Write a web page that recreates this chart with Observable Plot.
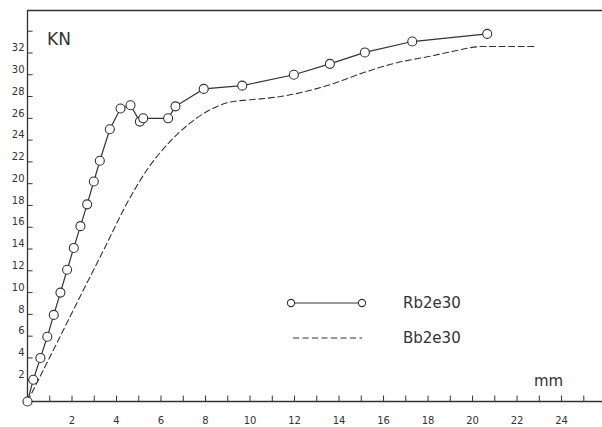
<!DOCTYPE html>
<html>
<head>
<meta charset="utf-8">
<script src="https://cdn.jsdelivr.net/npm/d3@7"></script>
<script src="https://cdn.jsdelivr.net/npm/@observablehq/plot@0.6"></script>
<style>
  html, body { margin: 0; padding: 0; background: #fff; }
  #chart { position: relative; width: 602px; height: 427px; }
</style>
</head>
<body>
<div id="chart"></div>
<script>
// Rb2e30: measured points (mm, kN)
const rbX = [0, 0.26, 0.58, 0.89, 1.18, 1.48, 1.78, 2.08, 2.38, 2.68, 2.98, 3.25, 3.70, 4.18, 4.63, 5.05, 5.20, 6.32, 6.65, 7.92, 9.65, 11.97, 13.59, 15.16, 17.29, 20.66];
const rbY = [0, 2.0, 4.0, 5.95, 7.95, 10.0, 12.1, 14.1, 16.1, 18.1, 20.2, 22.1, 25.0, 26.9, 27.2, 25.7, 26.0, 26.0, 27.1, 28.7, 29.0, 30.0, 31.0, 32.05, 33.05, 33.75];
// Bb2e30: dashed curve (mm, kN)
const bbX = [0, 1.15, 2.29, 3.42, 4.55, 5.38, 6.28, 7.33, 8.22, 9.12, 10.02, 11.37, 13.62, 15.11, 16.6, 18.1, 19.0, 20.5, 22.83];
const bbY = [0, 4.67, 9.33, 13.9, 18.5, 21.3, 23.6, 25.6, 26.8, 27.5, 27.7, 28.0, 29.1, 30.2, 31.1, 31.7, 32.1, 32.6, 32.6];
// axis ticks and labels
const xTicks = d3.range(1, 26);
const xLabels = [2, 4, 6, 8, 10, 12, 14, 16, 18, 20, 22, 24];
const yTicks = d3.range(2, 35, 2);
const yLabels = [2, 4, 6, 8, 10, 12, 14, 16, 18, 20, 22, 24, 26, 28, 30, 32];
const seriesNames = ["Rb2e30", "Bb2e30"];
const yUnit = "KN";
const xUnit = "mm";

const rb = rbX.map((x, i) => ({x, y: rbY[i]}));
const bb = bbX.map((x, i) => ({x, y: bbY[i]}));

const ink = "#333";
const font = "DejaVu Sans, sans-serif";
const xMax = 25.84, yMax = 35.9;

const plot = Plot.plot({
  width: 602,
  height: 427,
  marginLeft: 27,
  marginRight: 0,
  marginTop: 10,
  marginBottom: 26,
  x: {domain: [0, xMax], axis: null},
  y: {domain: [0, yMax], axis: null},
  style: {fontFamily: font, background: "#fff", color: ink},
  marks: [
    // frame lines
    Plot.ruleY([0], {stroke: ink, strokeWidth: 1.3}),
    Plot.ruleY([yMax], {stroke: ink, strokeWidth: 1.3}),
    Plot.ruleX([0], {stroke: ink, strokeWidth: 1.3}),
    // inward ticks
    Plot.ruleX(xTicks, {x: d => d, y1: 0, y2: 0.5, stroke: ink, strokeWidth: 1}),
    Plot.ruleY(yTicks, {y: d => d, x1: 0, x2: 0.25, stroke: ink, strokeWidth: 1}),
    // tick labels
    Plot.text(xLabels, {x: d => d, y: 0, dy: 19, text: d => String(d), fontSize: 10, fill: ink}),
    Plot.text(yLabels, {x: 0, y: d => d, dx: -3, dy: -5, text: d => String(d), textAnchor: "end", fontSize: 10, fill: ink}),
    // series
    Plot.line(bb, {x: "x", y: "y", stroke: ink, strokeWidth: 1.1, strokeDasharray: "6,3.5", curve: "monotone-x"}),
    Plot.line(rb, {x: "x", y: "y", stroke: ink, strokeWidth: 1.2}),
    Plot.dot(rb, {x: "x", y: "y", r: 4.5, stroke: ink, strokeWidth: 1.1, fill: "#fff"})
  ]
});

document.getElementById("chart").appendChild(plot);

// unit labels and legend (layout overlay)
const svg = d3.select(plot);
const g = svg.append("g").attr("font-family", font).attr("fill", ink).attr("text-anchor", "start");
g.append("text").attr("x", 47).attr("y", 45).attr("font-size", 17).text(yUnit);
g.append("text").attr("x", 534).attr("y", 386).attr("font-size", 15).text(xUnit);

// legend
const lg = svg.append("g").attr("text-anchor", "start");
lg.append("line").attr("x1", 291).attr("x2", 362).attr("y1", 303).attr("y2", 303)
  .attr("stroke", ink).attr("stroke-width", 1.2);
[291, 362].forEach(cx => lg.append("circle").attr("cx", cx).attr("cy", 303).attr("r", 3.6)
  .attr("fill", "#fff").attr("stroke", ink).attr("stroke-width", 1.1));
lg.append("line").attr("x1", 293).attr("x2", 362).attr("y1", 338).attr("y2", 338)
  .attr("stroke", ink).attr("stroke-width", 1.1).attr("stroke-dasharray", "6,3.5");
lg.append("text").attr("x", 403).attr("y", 308).attr("font-family", font).attr("font-size", 15).attr("fill", ink).text(seriesNames[0]);
lg.append("text").attr("x", 403).attr("y", 343).attr("font-family", font).attr("font-size", 15).attr("fill", ink).text(seriesNames[1]);
</script>
</body>
</html>
